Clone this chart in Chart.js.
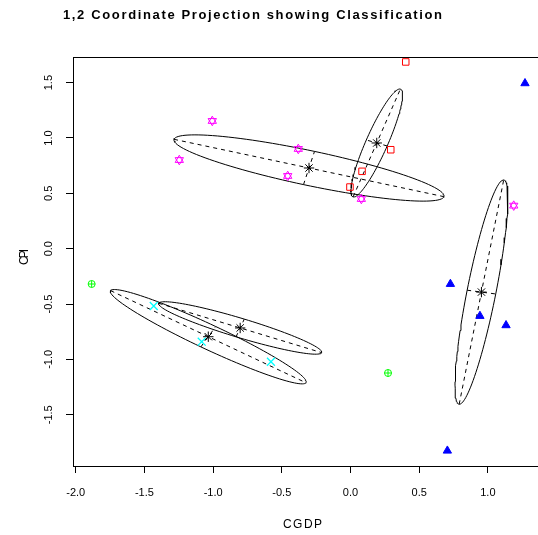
<!DOCTYPE html>
<html>
<head>
<meta charset="utf-8">
<title>1,2 Coordinate Projection showing Classification</title>
<script src="https://cdn.jsdelivr.net/npm/chart.js@4.4.1/dist/chart.umd.min.js"></script>
<style>
  html, body { margin: 0; padding: 0; background: #fff; overflow: hidden; }
  #wrap { width: 538px; height: 535px; overflow: hidden; position: relative; }
  #proj { display: block; position: absolute; left: 0; top: 0; }
</style>
</head>
<body>
<div id="wrap"><canvas id="proj" width="540" height="535"></canvas></div>
<script>
// ---- class members (CGDP, CPI) ----
const class1X = [0.402, 0.293, 0.084, -0.004];
const class1Y = [1.687, 0.894, 0.699, 0.557];
const class2X = [-1.006, -1.246, -0.380, -0.457, 0.079, 1.188];
const class2Y = [1.154, 0.801, 0.901, 0.657, 0.449, 0.389];
const class3X = [1.270, 0.727, 0.942, 1.132, 0.705];
const class3Y = [1.494, -0.319, -0.608, -0.692, -1.825];
const class4X = [-1.884, 0.273];
const class4Y = [-0.319, -1.123];
const class5X = [-1.432, -1.083, -0.579];
const class5Y = [-0.518, -0.840, -1.021];

// ---- component means and ellipse semi-axes ----
const meanX = [0.191, -0.302, 0.953, -1.035, -0.803];
const meanY = [0.955, 0.729, -0.392, -0.795, -0.716];
const majorX = [0.172, 0.982, 0.162, 0.711, 0.593];
const majorY = [0.487, -0.259, 1.013, -0.416, -0.223];
const minorX = [-0.076, 0.040, 0.104, 0.054, 0.030];
const minorY = [0.027, 0.150, -0.017, 0.092, 0.080];

// ---- axes ----
const xTicks = [-2.0, -1.5, -1.0, -0.5, 0.0, 0.5, 1.0];
const xTickLabels = ['-2.0', '-1.5', '-1.0', '-0.5', '0.0', '0.5', '1.0'];
const yTicks = [-1.5, -1.0, -0.5, 0.0, 0.5, 1.0, 1.5];
const yTickLabels = ['-1.5', '-1.0', '-0.5', '0.0', '0.5', '1.0', '1.5'];
const xRange = [-2.0197, 1.3719];
const yRange = [-1.9630, 1.7317];

const toPoints = (xs, ys) => xs.map((x, i) => ({ x: x, y: ys[i] }));

// closed outline of component k
const ellipsePath = k => {
  const pts = [];
  for (let s = 0; s <= 120; s++) {
    const t = s / 120 * Math.PI * 2;
    pts.push({
      x: meanX[k] + majorX[k] * Math.cos(t) + minorX[k] * Math.sin(t),
      y: meanY[k] + majorY[k] * Math.cos(t) + minorY[k] * Math.sin(t)
    });
  }
  return pts;
};
const axisSegment = (k, ax, ay) => [
  { x: meanX[k] - ax[k], y: meanY[k] - ay[k] },
  { x: meanX[k] + ax[k], y: meanY[k] + ay[k] }
];

const marker = (data, style, color, radius, extra) => Object.assign({
  data: data,
  pointStyle: style,
  pointRadius: radius,
  borderColor: color,
  pointBorderColor: color,
  backgroundColor: 'rgba(0,0,0,0)',
  pointBackgroundColor: 'rgba(0,0,0,0)',
  pointBorderWidth: 1,
  showLine: false
}, extra || {});

const datasets = [];
datasets.push(marker(toPoints(meanX, meanY), 'star', '#000000', 5.2));
datasets.push(marker(toPoints(class1X, class1Y), 'rect', '#ff0000', 4.6));
datasets.push(marker(toPoints(class2X, class2Y), 'triangle', '#ff00ff', 4.8));
datasets.push(marker(toPoints(class2X, class2Y), 'triangle', '#ff00ff', 4.8, { pointRotation: 180 }));
datasets.push(marker(toPoints(class3X, class3Y), 'triangle', '#0000ff', 4.8, { pointBackgroundColor: '#0000ff' }));
datasets.push(marker(toPoints(class4X, class4Y), 'circle', '#00ff00', 3.5));
datasets.push(marker(toPoints(class4X, class4Y), 'cross', '#00ff00', 3.5));
datasets.push(marker(toPoints(class5X, class5Y), 'crossRot', '#00ffff', 5.6, { pointBorderWidth: 1.3 }));

for (let k = 0; k < meanX.length; k++) {
  datasets.push({ data: ellipsePath(k), showLine: true, borderColor: '#000', borderWidth: 1, pointRadius: 0, fill: false });
  datasets.push({ data: axisSegment(k, majorX, majorY), showLine: true, borderColor: '#000', borderWidth: 1, borderDash: [4, 4], pointRadius: 0 });
  datasets.push({ data: axisSegment(k, minorX, minorY), showLine: true, borderColor: '#000', borderWidth: 1, borderDash: [4, 4], pointRadius: 0 });
}

// draws a string letter by letter so it spans `width` px
const spacedText = (ctx, text, x, y, width) => {
  const chars = [...text];
  const natural = chars.reduce((s, c) => s + ctx.measureText(c).width, 0);
  const gap = chars.length > 1 ? (width - natural) / (chars.length - 1) : 0;
  let cx = x;
  chars.forEach(c => {
    ctx.fillText(c, cx, y);
    cx += ctx.measureText(c).width + gap;
  });
};

// box, tick labels and titles
const frameAndText = {
  id: 'frameAndText',
  afterDraw(chart) {
    const { ctx, chartArea, scales } = chart;
    ctx.save();
    ctx.strokeStyle = '#000';
    ctx.lineWidth = 1;
    ctx.strokeRect(chartArea.left + 0.5, chartArea.top + 0.5, chartArea.right - chartArea.left, chartArea.bottom - chartArea.top);

    ctx.fillStyle = '#000';
    ctx.font = '11px "Liberation Sans", Arial, sans-serif';
    ctx.textAlign = 'center';
    ctx.textBaseline = 'middle';
    xTicks.forEach((v, i) => {
      ctx.fillText(xTickLabels[i], scales.x.getPixelForValue(v), chartArea.bottom + 27);
    });
    yTicks.forEach((v, i) => {
      ctx.save();
      ctx.translate(chartArea.left - 24, scales.y.getPixelForValue(v));
      ctx.rotate(-Math.PI / 2);
      ctx.fillText(yTickLabels[i], 0, 0);
      ctx.restore();
    });

    ctx.textAlign = 'left';
    ctx.font = 'bold 13px "Liberation Sans", Arial, sans-serif';
    spacedText(ctx, '1,2 Coordinate Projection showing Classification', 63, 15.5, 379);

    ctx.font = '12px "Liberation Sans", Arial, sans-serif';
    spacedText(ctx, 'CGDP', 283, 525, 39);

    ctx.save();
    ctx.translate(25, 265);
    ctx.rotate(-Math.PI / 2);
    spacedText(ctx, 'CPI', 0, 0, 16);
    ctx.restore();
    ctx.restore();
  }
};

const tickGrid = {
  drawOnChartArea: false,
  drawTicks: true,
  tickLength: 7,
  color: '#000',
  lineWidth: 1
};

new Chart(document.getElementById('proj').getContext('2d'), {
  type: 'scatter',
  data: { datasets: datasets },
  options: {
    responsive: false,
    animation: false,
    events: [],
    layout: { autoPadding: false, padding: { left: 73, top: 57, right: 1, bottom: 69 } },
    plugins: {
      legend: { display: false },
      tooltip: { enabled: false },
      title: { display: false }
    },
    scales: {
      x: {
        type: 'linear',
        min: xRange[0],
        max: xRange[1],
        afterFit: s => { s.height = 0; },
        afterBuildTicks: s => { s.ticks = xTicks.map(v => ({ value: v })); },
        grid: tickGrid,
        border: { display: false },
        ticks: { display: false }
      },
      y: {
        type: 'linear',
        min: yRange[0],
        max: yRange[1],
        afterFit: s => { s.width = 0; },
        afterBuildTicks: s => { s.ticks = yTicks.map(v => ({ value: v })); },
        grid: tickGrid,
        border: { display: false },
        ticks: { display: false }
      }
    }
  },
  plugins: [frameAndText]
});
</script>
</body>
</html>
